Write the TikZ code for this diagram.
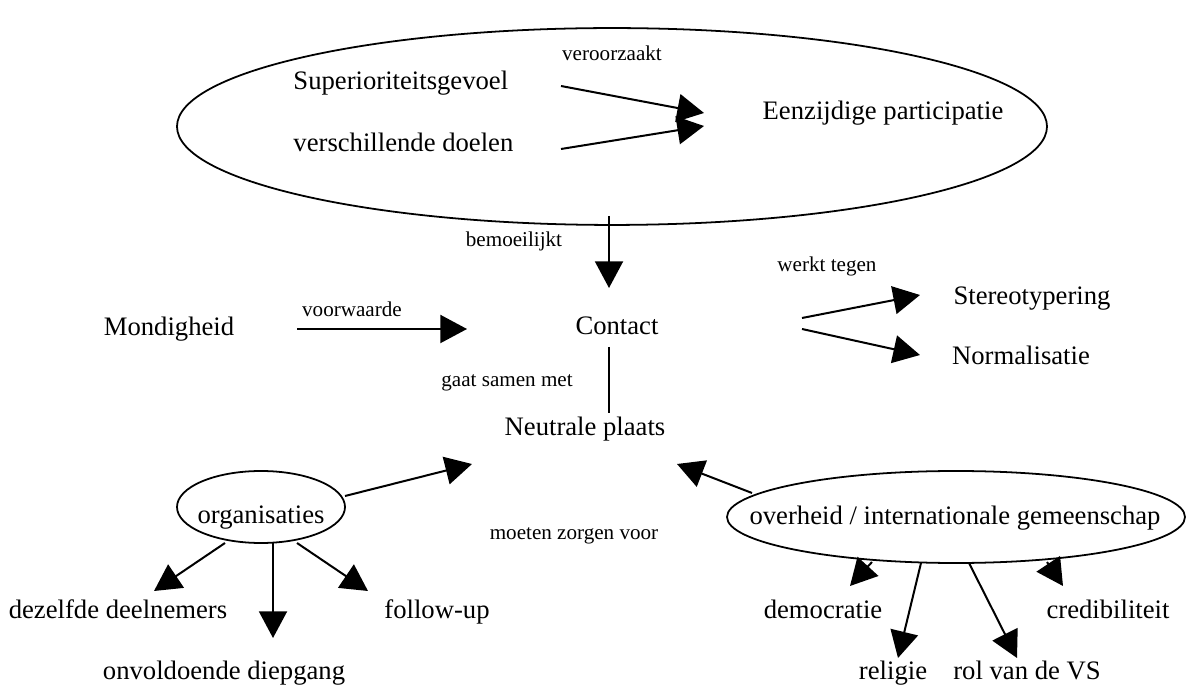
\documentclass[tikz,border=0pt]{standalone}
\usepackage{fontspec}
\setmainfont{Liberation Serif}
\usepackage{tikz}
\usetikzlibrary{arrows.meta, shapes.geometric}

\begin{document}
\begin{tikzpicture}[x=0.45pt, y=-0.45pt,
    txt/.style={font=\fontsize{12}{14}\selectfont, inner sep=0pt, text height=1.5ex, text depth=.25ex},
    klein/.style={font=\fontsize{9.5}{11}\selectfont, inner sep=0pt, text height=1.5ex, text depth=.25ex},
    pijl/.style={-{Triangle[length=12pt, width=12.6pt]}, line width=0.9pt},
    ovaal/.style={ellipse, draw, line width=0.8pt, inner sep=0pt}]
  \useasboundingbox (0,0) rectangle (1187,687);

  % Top ellipse
  \node[ovaal, minimum width=391.5pt, minimum height=88.6pt] (boven) at (612,126.5) {};
  \node[txt, anchor=west] (superioriteit) at (293,83) {Superioriteitsgevoel};
  \node[txt, anchor=west] (doelen) at (293,145) {verschillende doelen};
  \node[klein] (veroorzaakt) at (612,54) {veroorzaakt};
  \node[txt] (eenzijdig) at (883,113) {Eenzijdige participatie};
  \coordinate (sup-a) at (561,86);   \coordinate (sup-b) at (704,113);
  \coordinate (doel-a) at (561,149); \coordinate (doel-b) at (704,126);
  \draw[pijl] (sup-a) -- (sup-b);
  \draw[pijl] (doel-a) -- (doel-b);

  % Middle row
  \node[klein] (bemoeilijkt) at (514,240) {bemoeilijkt};
  \node[txt] (contact) at (617,328) {Contact};
  \node[txt] (mondigheid) at (169,329) {Mondigheid};
  \node[klein] (voorwaarde) at (352,310) {voorwaarde};
  \node[klein] (werkt) at (827,265) {werkt tegen};
  \node[txt] (stereo) at (1032,298) {Stereotypering};
  \node[txt] (normal) at (1021,358) {Normalisatie};
  \node[klein] (samen) at (507,380) {gaat samen met};
  \coordinate (bem-a) at (609,216);  \coordinate (bem-b) at (609,288);
  \coordinate (mon-a) at (297,329);  \coordinate (mon-b) at (467,329);
  \coordinate (con-a) at (609,347);  \coordinate (con-b) at (609,413);
  \coordinate (st-a) at (802,318);   \coordinate (st-b) at (920,295);
  \coordinate (no-a) at (802,329);   \coordinate (no-b) at (920,355);
  \draw[pijl] (bem-a) -- (bem-b);
  \draw[pijl] (mon-a) -- (mon-b);
  \draw[line width=0.9pt] (con-a) -- (con-b);
  \draw[pijl] (st-a) -- (st-b);
  \draw[pijl] (no-a) -- (no-b);

  % Neutral place and the two ellipses
  \node[txt] (neutraal) at (585,429) {Neutrale plaats};
  \node[klein] (zorgen) at (574,533) {moeten zorgen voor};
  \node[ovaal, minimum width=75.6pt, minimum height=32.4pt] (org) at (261,507) {};
  \node[txt] (orgtxt) at (261,517) {organisaties};
  \node[ovaal, minimum width=206.1pt, minimum height=41.4pt] (overheid) at (956,517) {};
  \node[txt] (ovtxt) at (955,518) {overheid / internationale gemeenschap};
  \coordinate (org-a) at (345,496);  \coordinate (org-b) at (472,464);
  \coordinate (ov-a) at (752,493);   \coordinate (ov-b) at (677,464);
  \draw[pijl] (org-a) -- (org-b);
  \draw[pijl] (ov-a) -- (ov-b);

  % Below organisaties
  \node[txt] (dezelfde) at (118,612) {dezelfde deelnemers};
  \node[txt] (diepgang) at (224,673) {onvoldoende diepgang};
  \node[txt] (follow) at (437,612) {follow-up};
  \coordinate (o1-a) at (225,543);   \coordinate (o1-b) at (154,591);
  \coordinate (o2-a) at (273,543);   \coordinate (o2-b) at (273,638);
  \coordinate (o3-a) at (297,543);   \coordinate (o3-b) at (368,591);
  \draw[pijl] (o1-a) -- (o1-b);
  \draw[pijl] (o2-a) -- (o2-b);
  \draw[pijl] (o3-a) -- (o3-b);

  % Below overheid
  \node[txt] (democratie) at (823,612) {democratie};
  \node[txt] (religie) at (893,673) {religie};
  \node[txt] (vs) at (1027,673) {rol van de VS};
  \node[txt] (cred) at (1108,612) {credibiliteit};
  \coordinate (v1-a) at (872,562);   \coordinate (v1-b) at (850,586);
  \coordinate (v2-a) at (921,563);   \coordinate (v2-b) at (898,658);
  \coordinate (v3-a) at (969,563);   \coordinate (v3-b) at (1017,658);
  \coordinate (v4-a) at (1047,562);  \coordinate (v4-b) at (1063,586);
  \draw[pijl] (v1-a) -- (v1-b);
  \draw[pijl] (v2-a) -- (v2-b);
  \draw[pijl] (v3-a) -- (v3-b);
  \draw[pijl] (v4-a) -- (v4-b);
\end{tikzpicture}
\end{document}
